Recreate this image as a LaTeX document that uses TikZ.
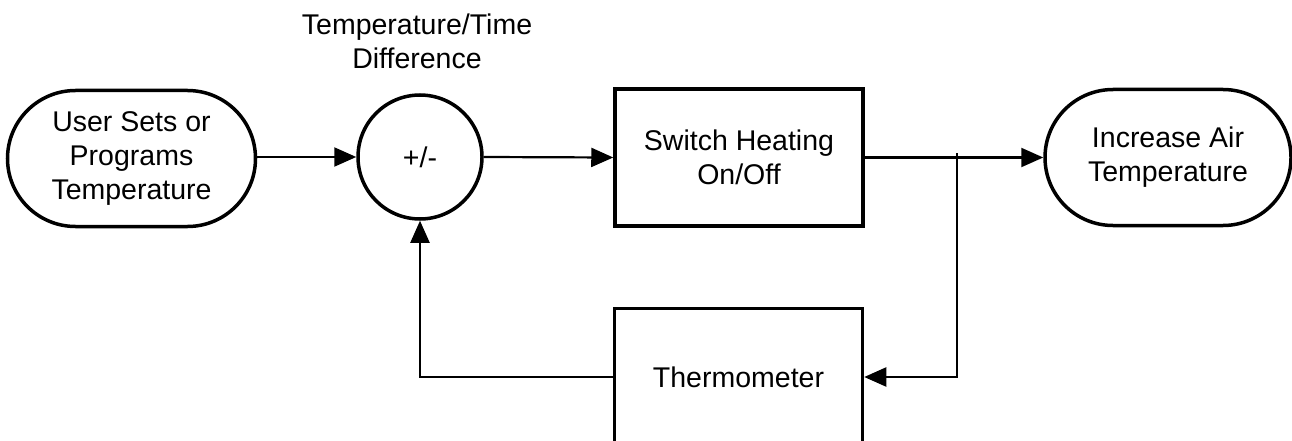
\documentclass[tikz,border=0pt]{standalone}
\usepackage{fontspec}
\setmainfont{Liberation Sans}
\usetikzlibrary{arrows.meta,shapes.misc}
\begin{document}
\begin{tikzpicture}[x=1pt,y=-1pt,
  every node/.style={font=\fontsize{28.5}{34}\selectfont, align=center, inner sep=0pt},
  stadium/.style={draw, line width=3.5pt, rounded rectangle, minimum width=246pt, minimum height=136pt},
  blockbox/.style={draw, line width=3.5pt, rectangle, minimum width=248pt, minimum height=137pt},
  sumnode/.style={draw, line width=3.5pt, circle, minimum size=124pt},
  conn/.style={line width=2.2pt},
  arr/.style={conn, -{Triangle[length=22pt,width=19pt]}}]
\useasboundingbox (0,0) rectangle (1292,441);
\node[stadium, minimum width=248pt] (user) at (131.5,158.5) {User Sets or\\Programs\\Temperature};
\node[sumnode] (sum) at (420,157) {+/-};
\node (lbl) at (417,41) {Temperature/Time\\Difference};
\node[blockbox] (switch) at (739,157.5) {Switch Heating\\On/Off};
\node[stadium] (air) at (1168,157.5) {Increase Air\\Temperature};
\node[blockbox] (thermo) at (738.5,377) {Thermometer};
\coordinate (tap) at (957,153);
\draw[arr] (user.east |- sum.west) -- (sum.west);
\draw[arr] (sum.east) -- (switch.west);
\draw[arr] (switch.east) -- (air.west);
\draw[arr] (tap) |- (thermo.east);
\draw[arr] (thermo.west) -| (sum.south);
\end{tikzpicture}
\end{document}
